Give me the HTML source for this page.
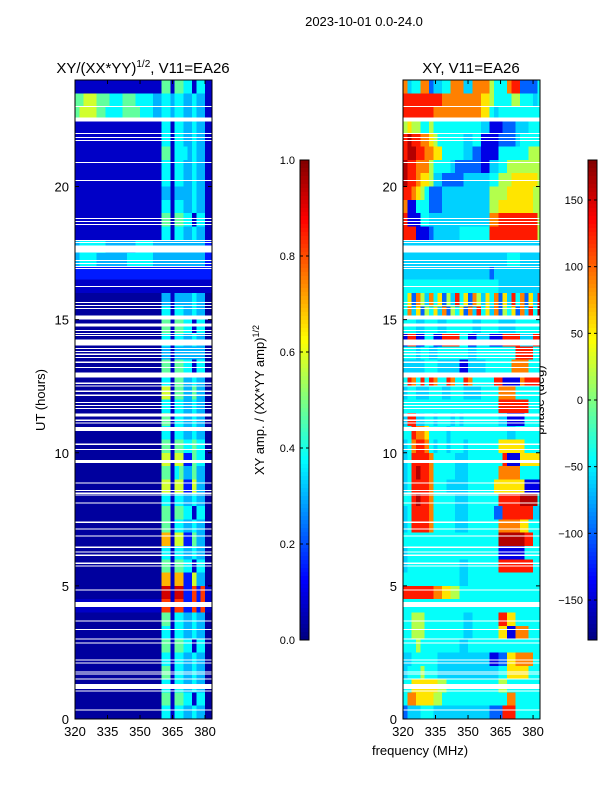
<!DOCTYPE html>
<html><head><meta charset="utf-8"><style>
html,body{margin:0;padding:0;background:#fff;}
svg{display:block;font-family:"Liberation Sans",sans-serif;}
</style></head><body>
<svg id="fig" width="600" height="800" viewBox="0 0 600 800">
<text x="364" y="26" font-size="13" text-anchor="middle">2023-10-01 0.0-24.0</text>
<text x="143" y="73" font-size="15" text-anchor="middle">XY/(XX*YY)<tspan font-size="10" dy="-6">1/2</tspan><tspan dy="6">, V11=EA26</tspan></text>
<text x="471" y="73" font-size="15" text-anchor="middle">XY, V11=EA26</text>
<text transform="translate(45,400) rotate(-90)" font-size="13" text-anchor="middle">UT (hours)</text>
<text x="420" y="755" font-size="13" text-anchor="middle">frequency (MHz)</text>
<text transform="translate(264,400) rotate(-90)" font-size="13" text-anchor="middle">XY amp. / (XX*YY amp)<tspan font-size="9" dy="-5">1/2</tspan></text>
<text transform="translate(544,400) rotate(-90)" font-size="13" text-anchor="middle">phase (deg)</text>
<g id="left"></g>
<g id="right"></g>
<g id="cbars"></g>
</svg>
<script>
const freqMin = 320, freqMax = 383.2, hourMin = 0, hourMax = 24;
const xTicks = [320, 335, 350, 365, 380];
const yTicks = [0, 5, 10, 15, 20];
const ampTicks = [0.0, 0.2, 0.4, 0.6, 0.8, 1.0];
const phaseTicks = [-150, -100, -50, 0, 50, 100, 150];
const binMHz = 2, binHours = 0.5;
// amplitude level per digit
const ampLevels = [0.03, 0.07, 0.15, 0.3, 0.37, 0.47, 0.58, 0.7, 0.82, 0.92];
// phase colour fraction per digit (0 = -180 deg, 9 = +180 deg)
const phaseLevels = [0.02, 0.1, 0.22, 0.33, 0.38, 0.55, 0.65, 0.75, 0.85, 0.95];
// amplitude digits, rows top (23.5-24h) to bottom, cols 320..384 MHz in 2 MHz bins
const ampGrid = [
"11111111111111111111551554414411","55666555444555444433443443343311","56666554444555544433443443343311",
"11111111111111111111441443343311","11111111111111111111441443343311","11111111111111111111551444343311",
"11111111111111111111441443343311","11111111111111111111441443343311","11111111111111111111331333343311",
"11111111111111111111441443343311","11111111111111111111551554414411","11111111111111111111441443343311",
"34444443333333444433333333333322","34444333333344444433333333333322","22222222222222222222222222222222",
"11111111111111111111111111111111","00000000000000000000331333343300","00000000000000000000441443343300",
"00000000000000000000551554414400","00000000000000000000441443343300","00000000000000000000331333333300",
"00000000000000000000551554414400","00000000000000000000441553343300","00000000000000000000661553353300",
"00000000000000000000441443343300","00000000000000000000551443343300","00000000000000000000441443343300",
"00000000000000000000551554454400","00000000000000000000661662254400","00000000000000000000551453353300",
"00000000000000000000661662263300","00000000000000000000441443343300","00000000000000000000551554414400",
"00000000000000000000551443343300","00000000000000000000771662253300","00000000000000000000441443343300",
"00000000000000000000551554414400","00000000000000000000771772263300","00000000000000000000991992282811",
"11111111111111111111881882282811","00000000000000000000551443343300","00000000000000000000441443343300",
"00000000000000000000551554414400","00000000000000000000441443343300","00000000000000000000551443343300",
"00000000000000000000441443343300","00000000000000000000551554414400","00000000000000000000441443343300"
];
const phaseGrid = [
"73447723344777337777544478822224","88888888877777777766544445544434","88888887777777777766434444444444",
"56554454444444444433111222333444","89887765444444334411112222344444","89988776644444332211114444444555",
"98877754444322222211334455555555","98876653322222333333445556666665","88765422233333333333555566666655",
"71144422233333333333556666666655","81114433333333333333778888888885","88811123333334444444888888888885",
"33333333333333333333333333333333","33333333333333333333333344433333","33333333333333333333233333333333",
"44444444444444444444443333333333","46275374625384627536472638472638","47362546372546273846372546273849",
"44433444334444443344443333444444","18811441188884411333111888833388","44434433444444433444444444888844",
"33333444333331133334444447777444","48748487448744874444488111178888","34433344433444333344447777444444",
"44444444444444444444448888888444","38833443444343444444443311114444","44877644443444444444444433444444",
"34788743443444344444446666664444","34888874444433344444444811166666","34898874444433344444447777744444",
"34888874443333344444466666661111","44898874444433344444448888899994","34888874444433344444422888888833",
"34888874444433344444447777766444","44444444444444444444449999998844","34444444444444444444441111114444",
"34444444444443344444448888888844","44444444444443344444444444444444","88888887766554444444444444444444",
"44444444444444444444444444444444","44555444444444334444448866444444","44555444444444334444446611777444",
"44454444444443344444444444444444","33444444333333333333112266777744","34445444333333333333334466666444",
"44666666554444444444445544444444","47766665544444444444444477444444","23334443333333333333222888444444"
];
// flagged (missing) time ranges in hours [start, end]
const gapStarts = [22.98,22.44,21.97,21.82,21.71,20.88,20.21,18.78,18.67,18.55,17.95,17.88,17.52,17.2,17.09,16.98,16.9,16.23,15.63,15.51,15.4,15.01,14.75,14.57,14.46,14.39,14.03,13.9,13.79,13.68,13.56,13.38,13.19,12.83,12.59,12.48,12.29,12.14,11.87,11.76,11.65,11.37,11.2,11.09,10.81,10.3,10.11,9.61,8.84,8.57,8.46,8.39,8.09,7.37,7.11,6.85,6.43,6.25,6.13,5.83,5.72,4.82,4.2,3.66,3.34,2.98,2.83,2.19,2.08,1.74,1.67,1.48,1.13,1.03,0.32];
const gapEnds   = [23.02,22.59,22.01,21.86,21.75,20.92,20.25,18.82,18.71,18.59,17.99,17.92,17.79,17.24,17.13,17.02,16.94,16.27,15.67,15.55,15.44,15.16,14.86,14.61,14.5,14.43,14.26,13.94,13.83,13.72,13.6,13.42,13.23,13.02,12.63,12.52,12.33,12.18,11.91,11.8,11.69,11.48,11.24,11.13,10.96,10.34,10.15,9.72,8.88,8.61,8.5,8.43,8.13,7.41,7.15,6.89,6.47,6.29,6.17,5.87,5.76,4.82+0.04,4.39,3.7,3.38,3.02,2.87,2.23,2.12,1.78,1.71,1.52,1.31,1.07,0.36];

const NS = "http://www.w3.org/2000/svg";
function jet(x){x=Math.max(0,Math.min(1,x));const c=v=>Math.round(255*Math.max(0,Math.min(1,v)));
 return `rgb(${c(1.5-Math.abs(4*x-3))},${c(1.5-Math.abs(4*x-2))},${c(1.5-Math.abs(4*x-1))})`;}
function mk(tag, attrs, parent){const e=document.createElementNS(NS,tag);for(const k in attrs)e.setAttribute(k,attrs[k]);parent.appendChild(e);return e;}

function panel(gid, x0, grid, colorOf){
 const g=document.getElementById(gid), x1=x0+137, y0=80, y1=719;
 const xs=f=>x0+(f-freqMin)/(freqMax-freqMin)*(x1-x0);
 const ys=h=>y1-(h-hourMin)/(hourMax-hourMin)*(y1-y0);
 const clip=mk('clipPath',{id:gid+'-clip'},g); mk('rect',{x:x0,y:y0,width:x1-x0,height:y1-y0},clip);
 const cells=mk('g',{'clip-path':`url(#${gid}-clip)`,'shape-rendering':'crispEdges'},g);
 grid.forEach((row,ri)=>{
  const hTop=hourMax-ri*binHours, hBot=hTop-binHours;
  for(let ci=0;ci<row.length;ci++){
   const f0=freqMin+ci*binMHz;
   const r=mk('rect',{x:xs(f0),y:ys(hTop),width:xs(f0+binMHz)-xs(f0)+0.5,height:ys(hBot)-ys(hTop)+0.5,fill:colorOf(+row[ci])},cells);
   
   
  }
 });
 gapStarts.forEach((s,i)=>{
  const r=mk('rect',{x:x0,y:ys(gapEnds[i]),width:x1-x0,height:Math.max(1,ys(s)-ys(gapEnds[i])),fill:'#fff'},cells);
  
  
 });
 const frame=mk('rect',{x:x0,y:y0,width:x1-x0,height:y1-y0,fill:'none',stroke:'#000','stroke-width':1},g);
 
 
 xTicks.forEach(t=>{const x=xs(t);
  mk('line',{x1:x,x2:x,y1:y1,y2:y1-4,stroke:'#000'},g); mk('line',{x1:x,x2:x,y1:y0,y2:y0+4,stroke:'#000'},g);
  const tx=mk('text',{x:x,y:y1+17,'font-size':13,'text-anchor':'middle'},g); tx.textContent=t;
  
  
 });
 yTicks.forEach(t=>{const y=ys(t);
  mk('line',{x1:x0,x2:x0+4,y1:y,y2:y,stroke:'#000'},g); mk('line',{x1:x1,x2:x1-4,y1:y,y2:y,stroke:'#000'},g);
  const tx=mk('text',{x:x0-6,y:y+5,'font-size':13,'text-anchor':'end'},g); tx.textContent=t;
  
  
 });
}
panel('left',75,ampGrid,d=>jet(ampLevels[d]));
panel('right',403,phaseGrid,d=>jet(phaseLevels[d]));

function colorbar(x, ticks, vmin, vmax, fmt, name){
 const g=document.getElementById('cbars'), y0=160, y1=640, w=9;
 const cg=mk('g',{},g);
 
 
 const N=120;
 for(let i=0;i<N;i++){mk('rect',{x:x,y:y0+(y1-y0)*i/N,width:w,height:(y1-y0)/N+0.6,fill:jet(1-(i+0.5)/N),'shape-rendering':'crispEdges'},cg);}
 mk('rect',{x:x,y:y0,width:w,height:y1-y0,fill:'none',stroke:'#000'},cg);
 const ys=v=>y1-(v-vmin)/(vmax-vmin)*(y1-y0);
 ticks.forEach(t=>{const y=ys(t);
  mk('line',{x1:x,x2:x+3,y1:y,y2:y,stroke:'#000'},cg); mk('line',{x1:x+w,x2:x+w-3,y1:y,y2:y,stroke:'#000'},cg);
  const tx=mk('text',{x:x-5,y:y+4,'font-size':11,'text-anchor':'end'},cg); tx.textContent=fmt(t);
  
  
 });
}
colorbar(300,ampTicks,0,1,t=>t.toFixed(1),'amplitude-colorbar');
colorbar(588,phaseTicks,-180,180,t=>t<0?'\u2212'+(-t):String(t),'phase-colorbar');
</script>
</body></html>
